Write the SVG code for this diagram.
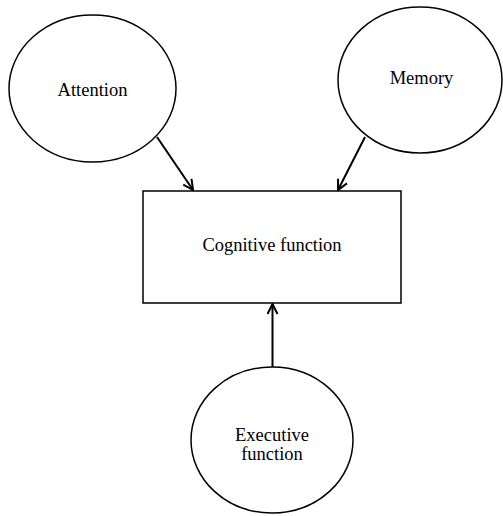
<svg xmlns="http://www.w3.org/2000/svg" width="503" height="516" viewBox="0 0 503 516">
<defs>
<style>
.node{fill:#fff;stroke:#000;stroke-width:1.5}
.lbl{font-family:"Liberation Serif","Times New Roman",serif;font-size:18.5px;fill:#000;text-anchor:middle}
.conn{stroke:#000;stroke-width:2;fill:none}
</style>
<marker id="arr" viewBox="0 0 12 12" refX="11" refY="6" markerWidth="12" markerHeight="12" markerUnits="userSpaceOnUse" orient="auto">
<path d="M1,1 L11,6 L1,11" fill="none" stroke="#000" stroke-width="2"/>
</marker>
</defs>
<rect width="503" height="516" fill="#fff"/>
<g id="connectors">
<line class="conn" x1="157" y1="137" x2="193" y2="190" marker-end="url(#arr)"/>
<line class="conn" x1="365" y1="137" x2="338" y2="190" marker-end="url(#arr)"/>
<line class="conn" x1="272.5" y1="367" x2="272.5" y2="304" marker-end="url(#arr)"/>
</g>
<g id="attention">
<ellipse class="node" cx="92.5" cy="88.5" rx="83.5" ry="73.5"/>
<text class="lbl" x="92.5" y="95.5">Attention</text>
</g>
<g id="memory">
<ellipse class="node" cx="420" cy="80" rx="82" ry="73"/>
<text class="lbl" x="421.5" y="84">Memory</text>
</g>
<g id="cognitive">
<rect class="node" x="143" y="191" width="258" height="112"/>
<text class="lbl" x="272" y="251">Cognitive function</text>
</g>
<g id="executive">
<ellipse class="node" cx="272" cy="440" rx="81" ry="73"/>
<text class="lbl" x="272" y="441">Executive</text>
<text class="lbl" x="272" y="460">function</text>
</g>
</svg>
